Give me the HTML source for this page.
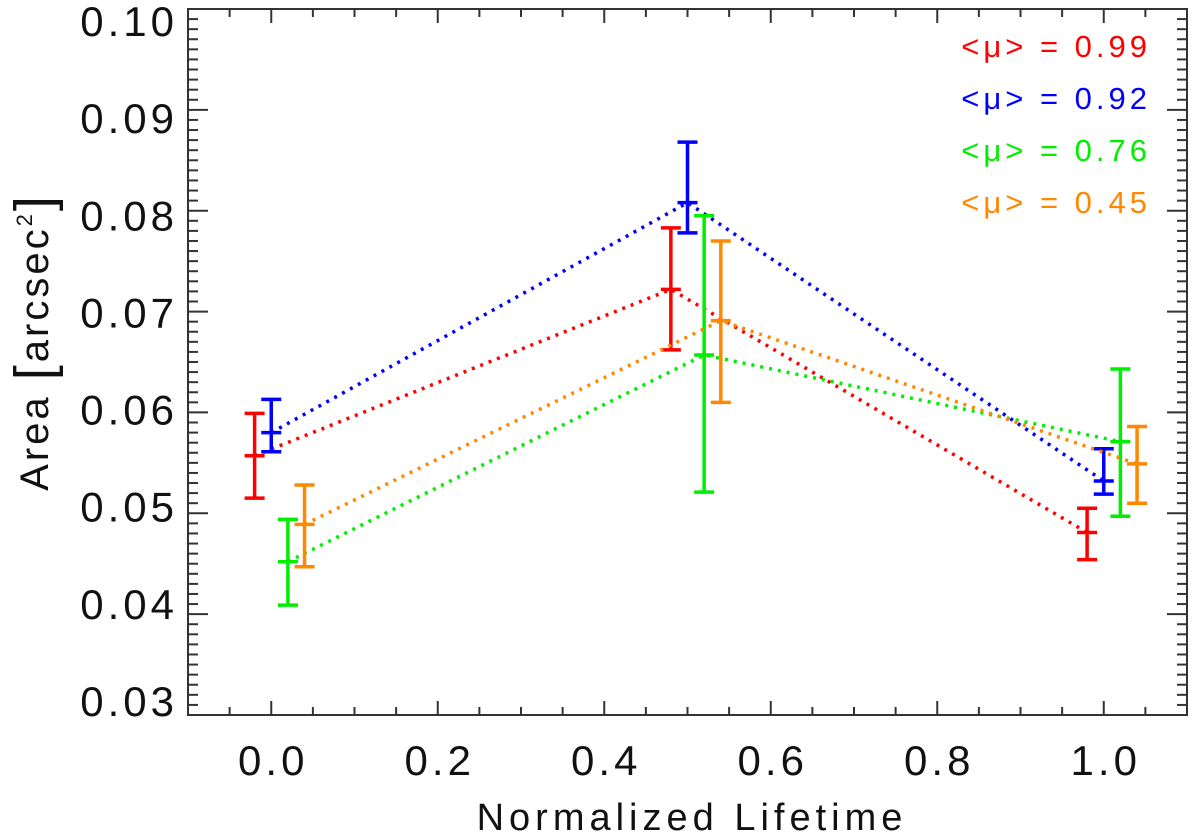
<!DOCTYPE html>
<html><head><meta charset="utf-8"><style>
body{margin:0;background:#fff;}
svg{display:block;font-family:"Liberation Sans","DejaVu Sans",sans-serif;}
</style></head><body>
<svg id="chart" width="1200" height="835" viewBox="0 0 1200 835" xmlns="http://www.w3.org/2000/svg">
<rect x="188" y="9" width="999" height="706" fill="none" stroke="#333" stroke-width="2"/>
<g id="axes"></g>
<g id="series"></g>
<g font-size="31" text-anchor="end" letter-spacing="4">
<text x="1151" y="57" fill="#ff0000">&lt;μ&gt; = 0.99</text>
<text x="1151" y="109" fill="#0000ff">&lt;μ&gt; = 0.92</text>
<text x="1151" y="161" fill="#00ee00">&lt;μ&gt; = 0.76</text>
<text x="1151" y="213" fill="#ff8800">&lt;μ&gt; = 0.45</text>
</g>
<text x="692" y="830" font-size="38" text-anchor="middle" fill="#111" letter-spacing="5">Normalized Lifetime</text>
<text transform="translate(48,342) rotate(-90)" font-size="40" text-anchor="middle" fill="#111" letter-spacing="3">Area <tspan font-size="54" dy="4">[</tspan><tspan dy="-4">arcsec</tspan><tspan dy="-16" font-size="22">2</tspan><tspan dy="20" font-size="54">]</tspan></text>
</svg>
<script>
const seriesNames=["mu-0.99","mu-0.92","mu-0.76","mu-0.45"];
const seriesColors=["#ff0000","#0000ff","#00ee00","#ff8800"];
const xRed=[-0.02,0.48,0.98];
const xBlue=[0.0,0.50,1.00];
const xGreen=[0.02,0.52,1.02];
const xOrange=[0.04,0.54,1.04];
const yRed=[0.0557,0.0722,0.0481];
const yBlue=[0.0580,0.0808,0.0532];
const yGreen=[0.0452,0.0657,0.0571];
const yOrange=[0.0489,0.0691,0.0549];
const hiRed=[0.0599,0.0783,0.0505];
const hiBlue=[0.0613,0.0868,0.0564];
const hiGreen=[0.0494,0.0795,0.0643];
const hiOrange=[0.0528,0.0770,0.0586];
const loRed=[0.0515,0.0662,0.0454];
const loBlue=[0.0561,0.0778,0.0519];
const loGreen=[0.0409,0.0521,0.0497];
const loOrange=[0.0447,0.0610,0.0510];
const xTicks=[0.0,0.2,0.4,0.6,0.8,1.0];
const xTickLabels=["0.0","0.2","0.4","0.6","0.8","1.0"];
const yTicks=[0.03,0.04,0.05,0.06,0.07,0.08,0.09,0.10];
const yTickLabels=["0.03","0.04","0.05","0.06","0.07","0.08","0.09","0.10"];

const X0=188,X1=1187,Y0=715,Y1=9;
const xMin=-0.1,xMax=1.1,yMin=0.03,yMax=0.10;
function sx(v){return X0+(v-xMin)/(xMax-xMin)*(X1-X0);}
function sy(v){return Y0-(v-yMin)/(yMax-yMin)*(Y0-Y1);}
const NS="http://www.w3.org/2000/svg";
function mk(tag,attrs,parent){const e=document.createElementNS(NS,tag);for(const k in attrs)e.setAttribute(k,attrs[k]);parent.appendChild(e);return e;}
const axes=document.getElementById('axes');
for(let i=0;i<=70;i++){
  const v=yMin+i*0.001; const y=sy(v); const major=(i%10===0);
  const len=major?20:10;
  const t1=mk('line',{x1:X0,x2:X0+len,y1:y,y2:y,stroke:'#333','stroke-width':2},axes);
  
  
  const t2=mk('line',{x1:X1,x2:X1-len,y1:y,y2:y,stroke:'#333','stroke-width':2},axes);
  
  
}
yTicks.forEach((v,i)=>{
  const yy=sy(v)+14-(v-0.065)/0.035*(-13);
  const t=mk('text',{x:178,y:yy,'font-size':42,'text-anchor':'end',fill:'#111','letter-spacing':4},axes);
  t.textContent=yTickLabels[i];
  
  
});
for(let i=0;i<=24;i++){
  const v=xMin+i*0.05; const x=sx(v);
  const k=Math.round(v*20); const major=(k%4===0);
  const len=major?14:8;
  const t1=mk('line',{x1:x,x2:x,y1:Y0,y2:Y0-len,stroke:'#333','stroke-width':2},axes);
  
  
  const t2=mk('line',{x1:x,x2:x,y1:Y1,y2:Y1+len,stroke:'#333','stroke-width':2},axes);
  
  
}
xTicks.forEach((v,i)=>{
  const t=mk('text',{x:sx(v)+2,y:775,'font-size':42,'text-anchor':'middle',fill:'#111','letter-spacing':4},axes);
  t.textContent=xTickLabels[i];
  
  
});
const sg=document.getElementById('series');
const xs=[xRed,xBlue,xGreen,xOrange],ys=[yRed,yBlue,yGreen,yOrange],his=[hiRed,hiBlue,hiGreen,hiOrange],los=[loRed,loBlue,loGreen,loOrange];
xs.forEach((xa,s)=>{
  const g=mk('g',{},sg);
  
  
  const pts=xa.map((x,i)=>sx(x)+','+sy(ys[s][i])).join(' ');
  const pl=mk('polyline',{points:pts,fill:'none',stroke:seriesColors[s],'stroke-width':3.5,'stroke-dasharray':'3 6'},g);
  
  
  xa.forEach((x,i)=>{
    const cx=sx(x),yt=sy(his[s][i]),yb=sy(los[s][i]),yc=sy(ys[s][i]);
    const e=mk('path',{d:`M${cx},${yt}V${yb}M${cx-10},${yt}H${cx+10}M${cx-10},${yb}H${cx+10}M${cx-10},${yc}H${cx+10}`,stroke:seriesColors[s],'stroke-width':3.5,fill:'none'},g);
    
    
  });
});
</script>
</body></html>
